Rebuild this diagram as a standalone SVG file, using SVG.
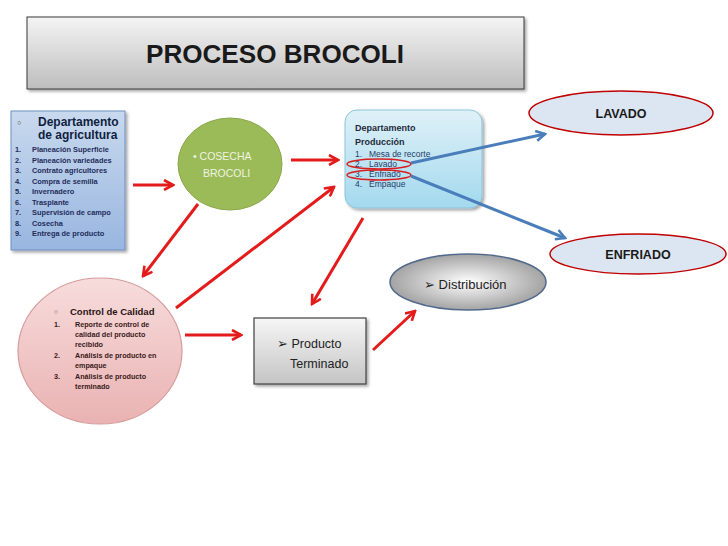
<svg xmlns="http://www.w3.org/2000/svg" width="728" height="546" viewBox="0 0 728 546">
<defs>
<linearGradient id="gTitle" x1="0" y1="0" x2="0" y2="1"><stop offset="0" stop-color="#f4f4f4"/><stop offset="0.5" stop-color="#d9d9d9"/><stop offset="1" stop-color="#bdbdbd"/></linearGradient>
<linearGradient id="gBlue" x1="0" y1="0" x2="0" y2="1"><stop offset="0" stop-color="#c9d9ee"/><stop offset="1" stop-color="#98b6e0"/></linearGradient>
<linearGradient id="gCyan" x1="0" y1="0" x2="0" y2="1"><stop offset="0" stop-color="#dff1f8"/><stop offset="1" stop-color="#a3d9ee"/></linearGradient>
<linearGradient id="gPink" x1="0" y1="0" x2="0" y2="1"><stop offset="0" stop-color="#f7dcdc"/><stop offset="1" stop-color="#eab2b2"/></linearGradient>
<linearGradient id="gGray" x1="0" y1="0" x2="0" y2="1"><stop offset="0" stop-color="#f6f6f6"/><stop offset="1" stop-color="#c4c4c4"/></linearGradient>
<radialGradient id="gDist" cx="0.5" cy="0.5" r="0.55"><stop offset="0" stop-color="#ffffff"/><stop offset="1" stop-color="#9a9a9a"/></radialGradient>
<marker id="ar" viewBox="0 0 12 12" refX="10" refY="6" markerWidth="12" markerHeight="12" markerUnits="userSpaceOnUse" orient="auto"><path d="M1,1 L10,6 L1,11" fill="none" stroke="#e41b1b" stroke-width="2.6"/></marker>
<marker id="ab" viewBox="0 0 12 12" refX="10" refY="6" markerWidth="12" markerHeight="12" markerUnits="userSpaceOnUse" orient="auto"><path d="M1,1 L10,6 L1,11" fill="none" stroke="#4a7ebb" stroke-width="2.6"/></marker>
<filter id="sh" x="-10%" y="-10%" width="120%" height="130%"><feDropShadow dx="2" dy="2" stdDeviation="1.5" flood-color="#000" flood-opacity="0.35"/></filter>
</defs>
<style>
text{font-family:"Liberation Sans",Arial,sans-serif;}
.red{stroke:#e41b1b;stroke-width:3;fill:none;marker-end:url(#ar);}
.blue{stroke:#4a7ebb;stroke-width:3;fill:none;marker-end:url(#ab);}
.li{font-size:7.4px;font-weight:bold;fill:#1f2d5a;}
.pi{font-size:8.5px;fill:#1f3d6a;}
.ci{font-size:7.2px;font-weight:bold;fill:#3a1a1a;}
</style>
<rect width="728" height="546" fill="#ffffff"/>

<g id="title">
<rect x="27" y="17" width="497" height="72" fill="url(#gTitle)" stroke="#3a3a3a" stroke-width="1" filter="url(#sh)"/>
<text x="275" y="63" text-anchor="middle" font-size="25" font-weight="bold" fill="#1a1a1a" textLength="258" lengthAdjust="spacingAndGlyphs">PROCESO BROCOLI</text>
</g>

<g id="depto-agricultura">
<rect x="11" y="111" width="114" height="139" fill="url(#gBlue)" stroke="#6f8fbf" stroke-width="1" filter="url(#sh)"/>
<text x="17" y="125" font-size="7" fill="#333">○</text>
<text x="38" y="126" font-size="12" font-weight="bold" fill="#0f1f3f">Departamento</text>
<text x="38" y="139" font-size="12" font-weight="bold" fill="#0f1f3f">de agricultura</text>
<g class="li">
<text x="15" y="152">1.</text><text x="32" y="152">Planeación Superficie</text>
<text x="15" y="162.5">2.</text><text x="32" y="162.5">Planeación variedades</text>
<text x="15" y="173">3.</text><text x="32" y="173">Contrato agricultores</text>
<text x="15" y="183.5">4.</text><text x="32" y="183.5">Compra de semilla</text>
<text x="15" y="194">5.</text><text x="32" y="194">Invernadero</text>
<text x="15" y="204.5">6.</text><text x="32" y="204.5">Trasplante</text>
<text x="15" y="215">7.</text><text x="32" y="215">Supervisión de campo</text>
<text x="15" y="225.5">8.</text><text x="32" y="225.5">Cosecha</text>
<text x="15" y="236">9.</text><text x="32" y="236">Entrega de producto</text>
</g>
</g>

<g id="cosecha">
<ellipse cx="230" cy="164" rx="52" ry="46" fill="#9bbb59" stroke="#8aa84c" stroke-width="1"/>
<text x="193" y="160" font-size="10.5" fill="#eef4e0">•  COSECHA</text>
<text x="203" y="177" font-size="10.5" fill="#eef4e0">BROCOLI</text>
</g>

<g id="depto-produccion">
<rect x="345" y="110" width="137" height="98" rx="12" fill="url(#gCyan)" stroke="#8fc3d9" stroke-width="1" filter="url(#sh)"/>
<text x="355" y="131" font-size="9" font-weight="bold" fill="#1f2a3a">Departamento</text>
<text x="355" y="145" font-size="9" font-weight="bold" fill="#1f2a3a">Producción</text>
<g class="pi">
<text x="355" y="157">1.</text><text x="369" y="157">Mesa de recorte</text>
<text x="355" y="167">2.</text><text x="369" y="167">Lavado</text>
<text x="355" y="177">3.</text><text x="369" y="177">Enfriado</text>
<text x="355" y="187">4.</text><text x="369" y="187">Empaque</text>
</g>
<ellipse cx="379" cy="164" rx="32" ry="5" fill="none" stroke="#d81e1e" stroke-width="1.5"/>
<ellipse cx="379" cy="175" rx="32" ry="5" fill="none" stroke="#d81e1e" stroke-width="1.5"/>
</g>

<g id="lavado">
<ellipse cx="621" cy="113" rx="92" ry="22" fill="#dce6f2" stroke="#c00000" stroke-width="1.5"/>
<text x="621" y="118" text-anchor="middle" font-size="12.5" font-weight="bold" fill="#1a1a1a">LAVADO</text>
</g>

<g id="enfriado">
<ellipse cx="638" cy="254" rx="88" ry="20" fill="#dce6f2" stroke="#c00000" stroke-width="1.5"/>
<text x="638" y="259" text-anchor="middle" font-size="12.5" font-weight="bold" fill="#1a1a1a">ENFRIADO</text>
</g>

<g id="control-calidad">
<ellipse cx="100" cy="351" rx="82" ry="73" fill="url(#gPink)" stroke="#d79a9a" stroke-width="1.2"/>
<text x="54" y="314" font-size="6.5" fill="#444">○</text>
<text x="70" y="315" font-size="9.5" font-weight="bold" fill="#2a1414">Control de Calidad</text>
<g class="ci">
<text x="54" y="327">1.</text>
<text x="75" y="327">Reporte de control de</text>
<text x="75" y="337">calidad del producto</text>
<text x="75" y="347">recibido</text>
<text x="54" y="358">2.</text>
<text x="75" y="358">Análisis de producto en</text>
<text x="75" y="368">empaque</text>
<text x="54" y="379">3.</text>
<text x="75" y="379">Análisis de producto</text>
<text x="75" y="389">terminado</text>
</g>
</g>

<g id="producto-terminado">
<rect x="254" y="318" width="112" height="66" fill="url(#gGray)" stroke="#404040" stroke-width="1.2" filter="url(#sh)"/>
<text x="277" y="348" font-size="12.5" fill="#222">➢  Producto</text>
<text x="290" y="368" font-size="12.5" fill="#222">Terminado</text>
</g>

<g id="distribucion">
<ellipse cx="468" cy="282" rx="78" ry="28" fill="url(#gDist)" stroke="#51698c" stroke-width="1.5"/>
<text x="424" y="289" font-size="13" fill="#222">➢  Distribución</text>
</g>

<g id="connectors">
<line class="red" x1="133" y1="185" x2="173" y2="185"/>
<line class="red" x1="291" y1="160" x2="338" y2="160"/>
<line class="red" x1="198" y1="204" x2="143" y2="276"/>
<line class="red" x1="176" y1="308" x2="334" y2="187"/>
<line class="red" x1="363" y1="218" x2="312" y2="304"/>
<line class="red" x1="185" y1="335" x2="241" y2="335"/>
<line class="red" x1="373" y1="350" x2="415" y2="311"/>
<line class="blue" x1="411" y1="163" x2="545" y2="134"/>
<line class="blue" x1="411" y1="176" x2="565" y2="238"/>
</g>
</svg>
